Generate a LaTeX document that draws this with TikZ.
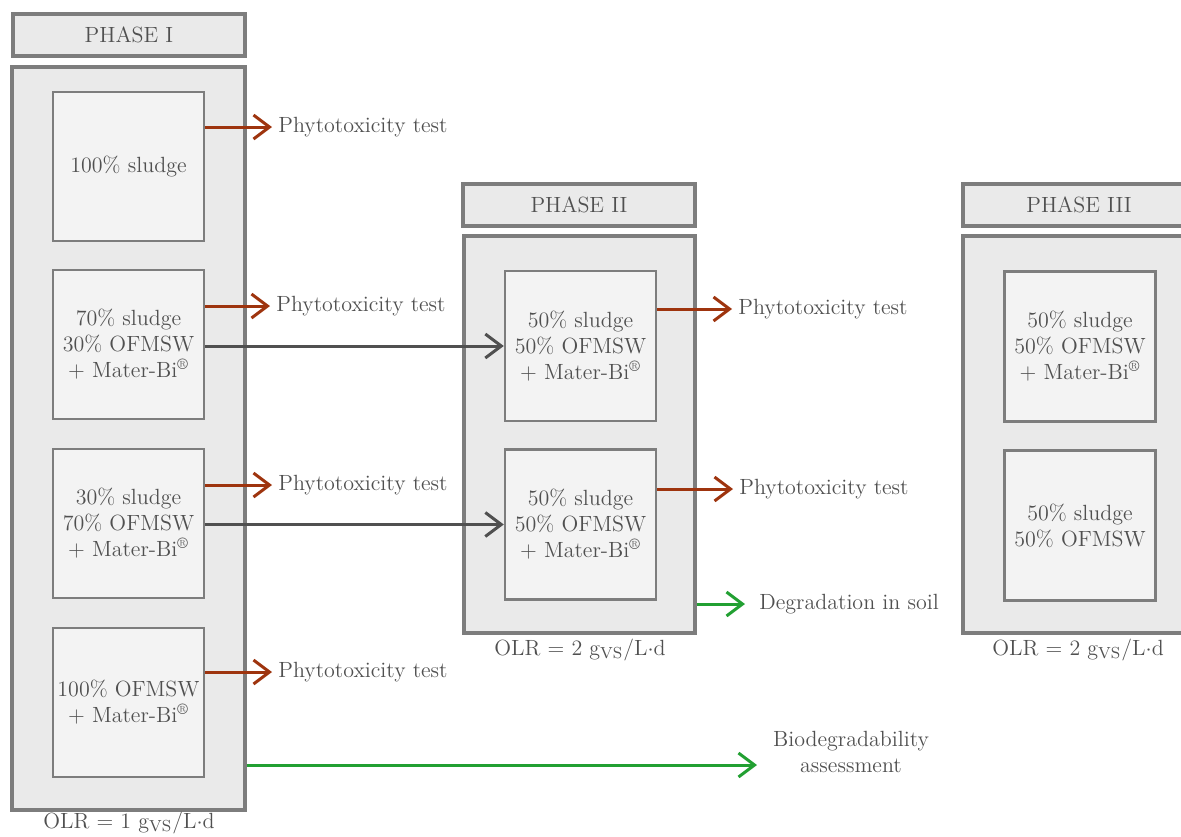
\documentclass[tikz,border=0pt]{standalone}
\usepackage{tikz}
\usetikzlibrary{arrows.meta}

\definecolor{boxline}{RGB}{125,125,125}
\definecolor{outerfill}{RGB}{234,234,234}
\definecolor{innerfill}{RGB}{243,243,243}
\definecolor{textgray}{RGB}{80,80,80}
\definecolor{testred}{RGB}{158,52,14}
\definecolor{feedgray}{RGB}{80,80,80}
\definecolor{soilgreen}{RGB}{34,160,50}

\tikzset{
  phasebox/.style={draw=boxline, line width=2pt, fill=outerfill, inner sep=0pt},
  headbox/.style={phasebox, minimum width=116pt, minimum height=21pt},
  mixbox/.style={draw=boxline, line width=1.2pt, fill=innerfill, align=center,
    minimum width=75.5pt, minimum height=74.5pt, inner sep=0pt},
  lbl/.style={text=textgray, inner sep=3pt, anchor=west},
  barb/.style={-{Straight Barb[length=8pt,width=12pt]}, line width=1.5pt},
  testarrow/.style={barb, draw=testred},
  feedarrow/.style={barb, draw=feedgray},
  soilarrow/.style={barb, draw=soilgreen}
}

\newcommand{\materbi}{+ Mater-Bi\textsuperscript{\textregistered}}
\newcommand{\gvs}{g$_{\mathrm{VS}}$}

\begin{document}
\begin{tikzpicture}[x=0.5pt, y=-0.5pt, font=\fontsize{11}{13}\selectfont, text=textgray]
        \clip (0,0) rectangle (1181,836);

        % Phase I
        \node[headbox] (h1) at (129, 35) {PHASE I};
        \node[phasebox, minimum width=116.5pt, minimum height=371.5pt] (o1) at (128.5, 438.5) {};
        \node[mixbox] (a1) at (128.5, 166.5) {100\% sludge};
        \node[mixbox] (a2) at (128.5, 344.5) {70\% sludge\\30\% OFMSW\\\materbi};
        \node[mixbox] (a3) at (128.5, 523.5) {30\% sludge\\70\% OFMSW\\\materbi};
        \node[mixbox] (a4) at (128.5, 702.5) {100\% OFMSW\\\materbi};
        \node (olr1) at (129, 823) {OLR = 1 \gvs/L$\cdot$d};

        % Phase II
        \node[headbox] (h2) at (579, 205) {PHASE II};
        \node[phasebox, minimum width=115.5pt, minimum height=198.5pt] (o2) at (579.5, 434.5) {};
        \node[mixbox, minimum height=75pt] (b1) at (580.5, 346) {50\% sludge\\50\% OFMSW\\\materbi};
        \node[mixbox, minimum height=75pt] (b2) at (580.5, 524.5) {50\% sludge\\50\% OFMSW\\\materbi};
        \node (olr2) at (580, 650) {OLR = 2 \gvs/L$\cdot$d};

        % Phase III
        \node[headbox] (h3) at (1079, 205) {PHASE III};
        \node[phasebox, minimum width=115.5pt, minimum height=198.5pt] (o3) at (1078.5, 434.5) {};
        \node[mixbox, minimum height=75pt] (c1) at (1080, 346.5) {50\% sludge\\50\% OFMSW\\\materbi};
        \node[mixbox, minimum height=75pt] (c2) at (1080, 525.5) {50\% sludge\\50\% OFMSW};
        \node (olr3) at (1078, 650) {OLR = 2 \gvs/L$\cdot$d};

        % labels
        \node[lbl] (p1) at (272, 127) {Phytotoxicity test};
        \node[lbl] (p2) at (270, 306) {Phytotoxicity test};
        \node[lbl] (p3) at (272, 485) {Phytotoxicity test};
        \node[lbl] (p4) at (272, 672) {Phytotoxicity test};
        \node[lbl] (p5) at (732, 309) {Phytotoxicity test};
        \node[lbl] (p6) at (733, 489) {Phytotoxicity test};
        \node[lbl, inner xsep=7pt] (deg) at (745, 604) {Degradation in soil};
        \node[align=center] (bio) at (851, 752) {Biodegradability\\assessment};
        \coordinate (bioin) at (757, 765);

        % arrows
        \draw[testarrow] (a1.east |- p1.west) -- (p1.west);
        \draw[testarrow] (a2.east |- p2.west) -- (p2.west);
        \draw[testarrow] (a3.east |- p3.west) -- (p3.west);
        \draw[testarrow] (a4.east |- p4.west) -- (p4.west);
        \draw[testarrow] (b1.east |- p5.west) -- (p5.west);
        \draw[testarrow] (b2.east |- p6.west) -- (p6.west);
        \draw[feedarrow] (a2.east |- b1.west) -- (b1.west);
        \draw[feedarrow] (a3.east |- b2.west) -- (b2.west);
        \draw[soilarrow] (o2.east |- deg.west) -- (deg.west);
        \draw[soilarrow] (o1.east |- bioin) -- (bioin);
    \end{tikzpicture}
\end{document}
